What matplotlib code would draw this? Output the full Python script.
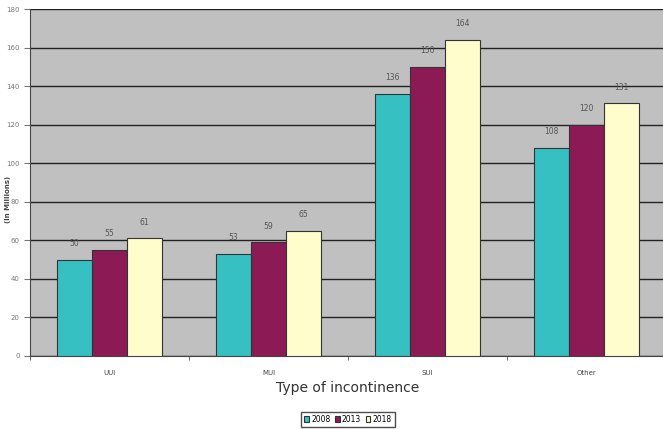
import matplotlib
matplotlib.use("Agg")
import matplotlib.pyplot as plt
import numpy as np

categories = ["UUI", "MUI", "SUI", "Other"]
years = ["2008", "2013", "2018"]
v2008 = [50, 53, 136, 108]
v2013 = [55, 59, 150, 120]
v2018 = [61, 65, 164, 131]
colors = ["#36C0C2", "#8C1A55", "#FFFDCC"]

fig = plt.figure(figsize=(6.63, 4.29), dpi=100)
ax = fig.add_axes([30 / 663, 73 / 429, 636 / 663, 347 / 429])
ax.set_facecolor("#C0C0C0")

x = np.arange(len(categories))
w = 0.22
for i, (vals, yr) in enumerate(zip([v2008, v2013, v2018], years)):
    pos = x + (i - 1) * w
    ax.bar(pos, vals, width=w, color=colors[i], edgecolor="#333333",
           linewidth=0.8, label=yr, zorder=3)
    for p, v in zip(pos, vals):
        ax.text(p, v + 6, str(v), ha="center", va="bottom",
                fontsize=5.5, color="#555555")

ax.set_ylim(0, 180)
ax.set_yticks(range(0, 181, 20))
ax.set_xlim(-0.5, 3.5)
ax.set_xticks(x)
ax.set_xticklabels(categories)
ax.set_xticks(np.arange(-0.5, 4, 1), minor=True)
ax.tick_params(axis="x", which="major", length=0, labelsize=5, colors="#444444", pad=10)
ax.tick_params(axis="x", which="minor", length=3, color="#555555")
ax.tick_params(axis="y", labelsize=5, colors="#777777", length=4, width=0.8)
ax.yaxis.grid(True, color="#222222", linewidth=1.0, zorder=0)
ax.set_axisbelow(True)
for s in ["top", "right"]:
    ax.spines[s].set_visible(False)
ax.spines["left"].set_color("#444444")
ax.spines["bottom"].set_color("#444444")

ax.set_ylabel("(In Millions)", fontsize=5, fontweight="bold", color="#444444")
ax.yaxis.set_label_coords(-0.03, 0.45)
ax.set_xlabel("Type of incontinence", fontsize=10, color="#333333", labelpad=4)

leg = ax.legend(loc="upper center", bbox_to_anchor=(0.5, -0.15), ncol=3,
                fontsize=5.5, frameon=True, fancybox=False, edgecolor="#222222",
                handlelength=0.6, handleheight=0.8, handletextpad=0.3,
                columnspacing=0.6, borderpad=0.4)
leg.get_frame().set_linewidth(1.0)

fig.savefig("out.png", dpi=100)
